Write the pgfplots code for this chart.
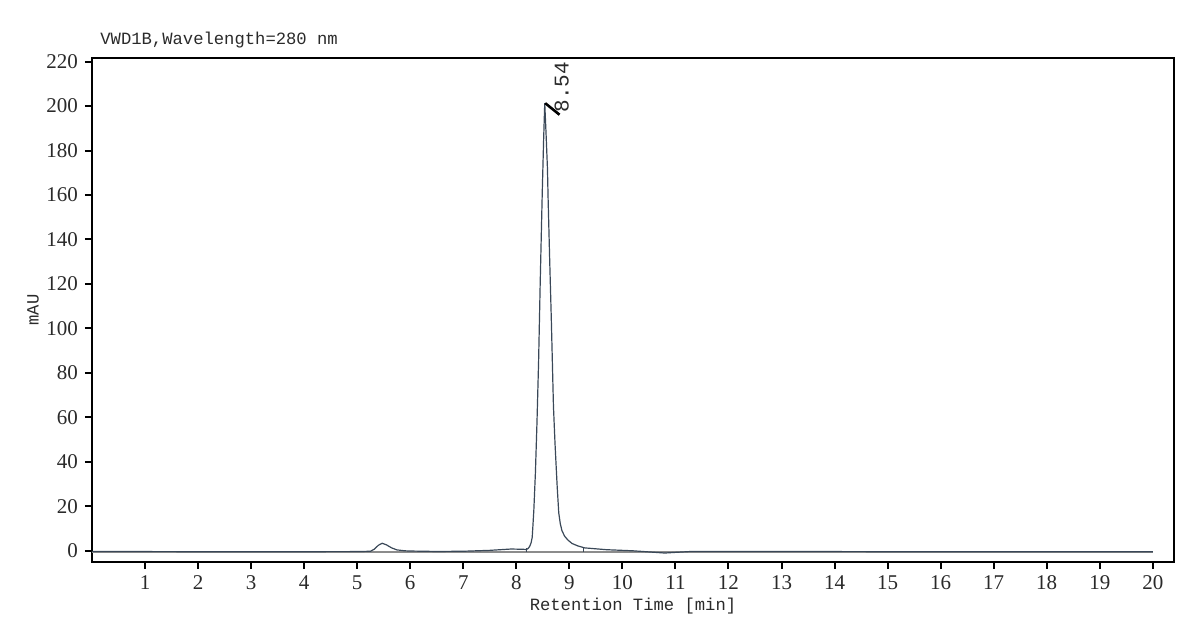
\documentclass[border=0pt]{standalone}
\usepackage{fontspec}
\setmainfont{Liberation Serif}
\newfontfamily\monofont{Liberation Mono}
\usepackage{pgfplots}
\pgfplotsset{compat=1.18}

\definecolor{sig}{HTML}{3A4858}
\definecolor{basegray}{HTML}{8C8C8C}
\definecolor{txt}{HTML}{2A2A2A}

\begin{document}
\begin{tikzpicture}
\begin{axis}[
    name=ax,
    scale only axis,
    width=541pt,
    height=251.7pt,
    xmin=0, xmax=20.4,
    ymin=-5, ymax=221.5,
    xtick={1,2,...,20},
    ytick={0,20,...,220},
    xtick pos=bottom,
    ytick pos=left,
    tick align=outside,
    major tick length=3.5pt,
    major tick style={line width=1pt, black},
    axis line style={line width=1pt, black},
    ticklabel style={font=\fontsize{10.5}{12}\selectfont, text=txt},
    /pgf/number format/assume math mode=true,
    xlabel={\monofont Retention Time [min]},
    ylabel={\monofont mAU},
    label style={font=\fontsize{8.6}{10}\selectfont, text=txt},
    xlabel style={at={(axis description cs:0.5,-0.0874)}, anchor=center},
    ylabel style={at={(axis description cs:-0.0545,0.5)}, anchor=center},
    clip=false,
]

% integration baseline
\addplot[basegray, line width=1pt] coordinates {(0,-0.5) (20,-0.5)};

% signal
\addplot[sig, line width=0.6pt] coordinates {
    (0,-0.45) (1,-0.45) (2,-0.5) (3,-0.5) (4,-0.5) (5,-0.45)
    (5.25,-0.3) (5.32,0.6) (5.40,2.4) (5.47,3.3) (5.55,2.6) (5.65,1.2)
    (5.75,0.3) (5.9,-0.1) (6.0,-0.2) (6.5,-0.4) (7.0,-0.3) (7.5,0.1)
    (7.9,0.7) (8.1,0.6) (8.19,0.5) (8.22,0.9) (8.25,1.8) (8.28,3.6)
    (8.30,6.0) (8.33,18) (8.36,35) (8.39,58) (8.42,85) (8.45,120)
    (8.49,162) (8.515,185) (8.536,201.3) (8.56,188) (8.587,172)
    (8.60,157.8) (8.63,130) (8.66,104) (8.70,65) (8.73,48) (8.77,29)
    (8.80,17) (8.83,12) (8.86,9) (8.91,6.5) (8.97,4.8) (9.05,3.2)
    (9.16,2.1) (9.29,1.2) (9.4,1.0) (9.55,0.7) (9.7,0.4) (9.9,0.2)
    (10.2,-0.1) (10.5,-0.6) (10.8,-1.1) (11.0,-0.8) (11.3,-0.4)
    (12,-0.4) (13,-0.45) (14,-0.45) (15,-0.5) (16,-0.5) (17,-0.5)
    (18,-0.5) (19,-0.5) (20,-0.5)
};

% integration markers
\addplot[sig, line width=0.5pt] coordinates {(8.19,-0.5) (8.19,1.2)};
\addplot[sig, line width=0.5pt] coordinates {(9.27,-0.5) (9.27,1.6)};

% peak marker
\addplot[black, line width=1.3pt] coordinates {(8.545,201.3) (8.815,196.1)};
\node[rotate=90, anchor=west, inner sep=0pt, text=txt,
      font=\monofont\fontsize{10.5}{12}\selectfont] at (axis cs:8.857,196.9) {8.54};

\node[anchor=west, inner sep=0pt, text=txt,
      font=\monofont\fontsize{8.6}{10}\selectfont]
      at (rel axis cs:0,1) [xshift=4pt, yshift=9pt] {VWD1B,Wavelength=280 nm};
\end{axis}
\path (ax.south west) ++(-46pt,-32.15pt) rectangle ++(600pt,313pt);
\end{tikzpicture}
\end{document}
